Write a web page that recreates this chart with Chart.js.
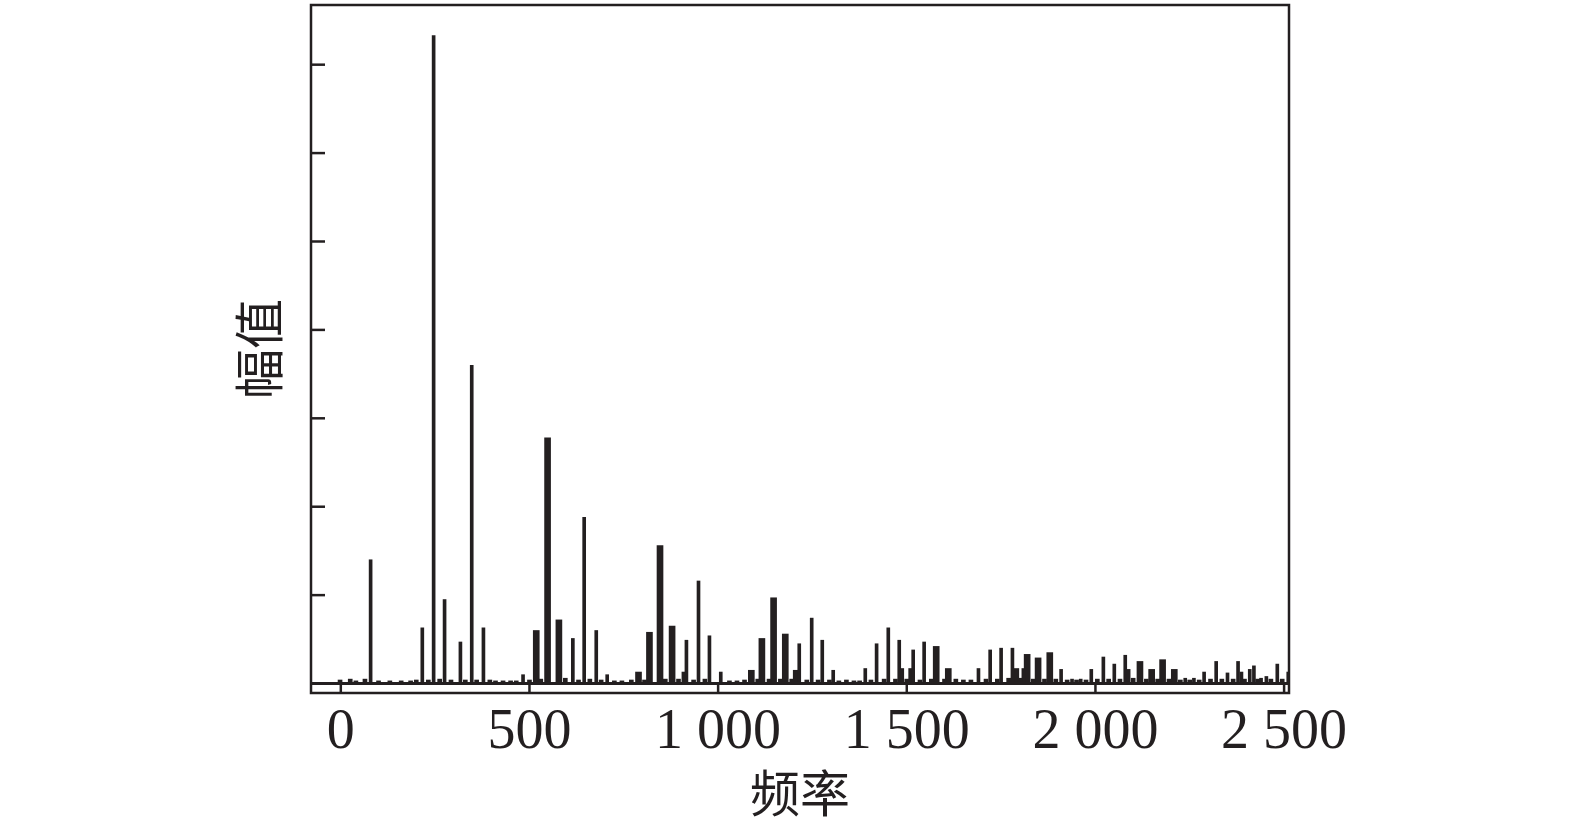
<!DOCTYPE html>
<html>
<head>
<meta charset="utf-8">
<script src="https://cdn.jsdelivr.net/npm/chart.js@4"></script>
<style>
  html, body { margin: 0; padding: 0; background: #fff; }
  canvas { display: block; }
</style>
</head>
<body>
<canvas id="chart" width="1575" height="839"></canvas>
<script>
// x tick values and labels
const xTickValues = [0, 500, 1000, 1500, 2000, 2500];
const xTickLabels = ['0', '500', '1 000', '1 500', '2 000', '2 500'];
const yTickValues = [1, 2, 3, 4, 5, 6, 7]; // unlabelled ticks

// narrow spectral lines [frequency, amplitude]
const thinPeaks = [
  [79, 1.40], [216, 0.63], [246, 7.33], [275, 0.95], [317, 0.47], [347, 3.60],
  [378, 0.63], [483, 0.10], [615, 0.51], [645, 1.88], [677, 0.60], [706, 0.10],
  [908, 0.13], [916, 0.49], [948, 1.16], [977, 0.54], [1007, 0.13], [1215, 0.45],
  [1248, 0.74], [1276, 0.49], [1305, 0.15], [1390, 0.17], [1420, 0.45], [1451, 0.63],
  [1480, 0.49], [1488, 0.17], [1509, 0.17], [1517, 0.38], [1546, 0.47], [1690, 0.17],
  [1721, 0.38], [1750, 0.40], [1780, 0.40], [1809, 0.17], [1909, 0.16], [1938, 0.05],
  [1961, 0.05], [1989, 0.16], [2021, 0.30], [2050, 0.22], [2079, 0.32], [2088, 0.16],
  [2238, 0.06], [2261, 0.06], [2288, 0.13], [2320, 0.25], [2350, 0.12], [2378, 0.25],
  [2387, 0.13], [2409, 0.16], [2420, 0.20], [2439, 0.06], [2453, 0.08], [2482, 0.22],
  [2511, 0.13]
];

// broader spectral lines [frequency, amplitude]
const widePeaks = [
  [518, 0.60], [548, 2.78], [578, 0.72], [789, 0.13], [818, 0.58], [846, 1.56],
  [878, 0.65], [1088, 0.15], [1116, 0.51], [1147, 0.97], [1178, 0.56], [1207, 0.15],
  [1578, 0.42], [1610, 0.17], [1789, 0.17], [1819, 0.33], [1848, 0.29], [1879, 0.35],
  [2118, 0.25], [2149, 0.16], [2178, 0.27], [2209, 0.16]
];

// low-level ripple along the baseline [frequency, amplitude]
const ripple = [
  [-2, 0.04], [25, 0.05], [40, 0.03], [64, 0.05], [100, 0.03], [130, 0.03],
  [160, 0.03], [185, 0.03], [200, 0.04], [232, 0.04], [262, 0.05], [292, 0.04],
  [330, 0.04], [360, 0.04], [395, 0.04], [410, 0.03], [430, 0.03], [450, 0.03],
  [465, 0.03], [500, 0.04], [530, 0.05], [595, 0.06], [630, 0.04], [660, 0.05],
  [690, 0.04], [725, 0.03], [745, 0.03], [770, 0.04], [805, 0.04], [860, 0.05],
  [895, 0.05], [935, 0.04], [965, 0.05], [1030, 0.03], [1050, 0.03], [1070, 0.04],
  [1105, 0.05], [1135, 0.05], [1165, 0.05], [1195, 0.05], [1235, 0.04], [1265, 0.04],
  [1295, 0.04], [1320, 0.03], [1340, 0.04], [1360, 0.03], [1375, 0.03], [1405, 0.04],
  [1440, 0.05], [1470, 0.05], [1500, 0.05], [1535, 0.04], [1565, 0.05], [1600, 0.05],
  [1630, 0.05], [1650, 0.04], [1670, 0.04], [1710, 0.05], [1740, 0.05], [1770, 0.06],
  [1800, 0.06], [1835, 0.05], [1865, 0.05], [1895, 0.05], [1925, 0.04], [1950, 0.04],
  [1975, 0.04], [2005, 0.05], [2035, 0.05], [2065, 0.05], [2100, 0.06], [2135, 0.05],
  [2165, 0.05], [2195, 0.05], [2225, 0.04], [2250, 0.04], [2275, 0.04], [2305, 0.05],
  [2335, 0.05], [2365, 0.05], [2395, 0.05], [2430, 0.05], [2465, 0.05], [2495, 0.05]
];

const ink = '#231f20';
const toPoints = arr => arr.map(([x, y]) => ({ x, y }));

// box, inner ticks and zero line
const frame = {
  id: 'frame',
  afterDraw(chart) {
    const { ctx, chartArea: a, scales } = chart;
    const xs = scales.x, ys = scales.y;
    ctx.save();
    ctx.strokeStyle = ink;
    ctx.lineWidth = 2.5;
    ctx.strokeRect(a.left, a.top, a.right - a.left, a.bottom - a.top);
    // zero line
    const y0 = ys.getPixelForValue(0);
    ctx.lineWidth = 3;
    ctx.beginPath();
    ctx.moveTo(a.left, y0);
    ctx.lineTo(a.right, y0);
    ctx.stroke();
    // x ticks pointing in
    ctx.lineWidth = 2.5;
    xs.ticks.forEach(t => {
      const px = xs.getPixelForValue(t.value);
      ctx.beginPath();
      ctx.moveTo(px, a.bottom);
      ctx.lineTo(px, a.bottom - 8);
      ctx.stroke();
    });
    // y ticks pointing in
    yTickValues.forEach(v => {
      const py = ys.getPixelForValue(v);
      ctx.beginPath();
      ctx.moveTo(a.left, py);
      ctx.lineTo(a.left + 14, py);
      ctx.stroke();
    });
    ctx.restore();
  }
};

new Chart(document.getElementById('chart'), {
  type: 'bar',
  data: {
    datasets: [
      { data: toPoints(ripple), backgroundColor: ink, barThickness: 4 },
      { data: toPoints(thinPeaks), backgroundColor: ink, barThickness: 3 },
      { data: toPoints(widePeaks), backgroundColor: ink, barThickness: 6 }
    ]
  },
  options: {
    responsive: false,
    animation: false,
    grouped: false,
    layout: { padding: { left: 0, right: 286, top: 5, bottom: 0 } },
    plugins: {
      legend: { display: false },
      tooltip: { enabled: false }
    },
    scales: {
      x: {
        type: 'linear',
        offset: false,
        min: -79,
        max: 2513,
        grid: { display: false, drawTicks: false },
        border: { display: false },
        afterBuildTicks: scale => {
          scale.ticks = xTickValues.map(v => ({ value: v }));
        },
        afterFit: scale => { scale.height = 146; },
        ticks: {
          color: ink,
          padding: 7,
          maxRotation: 0,
          autoSkip: false,
          font: { family: '"Liberation Serif", "Times New Roman", serif', size: 56 },
          callback: (value, index) => xTickLabels[index]
        },
        title: {
          display: true,
          text: '频率',
          color: ink,
          padding: { top: 0, bottom: 16 },
          font: { family: '"Noto Sans CJK SC", sans-serif', size: 50 }
        }
      },
      y: {
        min: -0.107,
        max: 7.675,
        grid: { display: false, drawTicks: false },
        border: { display: false },
        ticks: { display: false },
        afterFit: scale => { scale.width = 311; },
        title: {
          display: true,
          text: '幅值',
          color: ink,
          padding: { top: 229, bottom: 0 },
          font: { family: '"Noto Sans CJK SC", sans-serif', size: 50 }
        }
      }
    }
  },
  plugins: [frame]
});
</script>
</body>
</html>
